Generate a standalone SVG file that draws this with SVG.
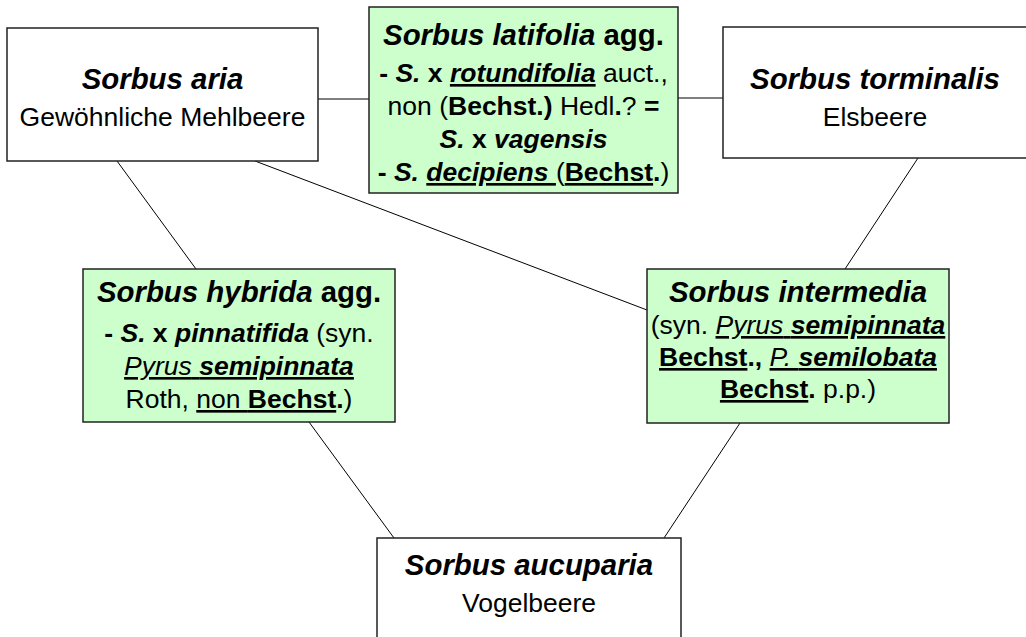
<svg xmlns="http://www.w3.org/2000/svg" width="1026" height="637" viewBox="0 0 1026 637">
<style>
.box{fill:#fff;stroke:#222;stroke-width:1.5}
.g{fill:#CCFFCC;stroke:#222;stroke-width:1.5}
.c{stroke:#000;stroke-width:1;fill:none}
text{font-family:"Liberation Sans",Arial,sans-serif;fill:#000;text-anchor:middle}
.t{font-size:29.4px;font-weight:bold;font-style:italic}
.b{font-size:26.5px}
.bd{font-weight:bold}
.it{font-style:italic}
.bi{font-weight:bold;font-style:italic}
.u{text-decoration:underline}
</style>
<rect width="1026" height="637" fill="#fff"/>
<g id="connectors">
<line class="c" x1="318" y1="99" x2="369" y2="99"/>
<line class="c" x1="678" y1="98" x2="723" y2="98"/>
<line class="c" x1="117" y1="161" x2="196" y2="269"/>
<line class="c" x1="255" y1="161" x2="647" y2="310"/>
<line class="c" x1="918" y1="158" x2="845" y2="269"/>
<line class="c" x1="309" y1="422" x2="394" y2="538"/>
<line class="c" x1="740" y1="423" x2="664" y2="538"/>
</g>
<g id="aria">
<rect class="box" x="7" y="28" width="311" height="133"/>
<text class="t" x="162.5" y="89">Sorbus aria</text>
<text class="b" x="162.5" y="126">Gewöhnliche Mehlbeere</text>
</g>
<g id="latifolia">
<rect class="g" x="369" y="7" width="309" height="186"/>
<text class="t" x="523.5" y="45">Sorbus latifolia <tspan font-style="normal">agg.</tspan></text>
<text class="b" x="523.5" y="82"><tspan class="bd">- </tspan><tspan class="bi">S.</tspan><tspan class="bd"> x </tspan><tspan class="bi u">rotundifolia</tspan> auct.,</text>
<text class="b" x="523.5" y="115">non (<tspan class="bd">Bechst.)</tspan> Hedl<tspan class="bd">.</tspan>? <tspan class="bd">=</tspan></text>
<text class="b" x="523.5" y="148"><tspan class="bi">S.</tspan><tspan class="bd"> x </tspan><tspan class="bi">vagensis</tspan></text>
<text class="b" x="523.5" y="181"><tspan class="bd">- </tspan><tspan class="bi">S.</tspan> <tspan class="bi u">decipiens </tspan>(<tspan class="bd u">Bechst</tspan><tspan class="bd">.</tspan>)</text>
</g>
<g id="torminalis">
<rect class="box" x="723" y="27" width="304" height="131"/>
<text class="t" x="875" y="89">Sorbus torminalis</text>
<text class="b" x="875" y="126">Elsbeere</text>
</g>
<g id="hybrida">
<rect class="g" x="83" y="269" width="312" height="153"/>
<text class="t" x="239" y="302">Sorbus hybrida <tspan font-style="normal">agg.</tspan></text>
<text class="b" x="239" y="342"><tspan class="bd">- </tspan><tspan class="bi">S.</tspan><tspan class="bd"> x </tspan><tspan class="bi">pinnatifida</tspan> (syn.</text>
<text class="b" x="239" y="375"><tspan class="it u">Pyrus</tspan><tspan class="u"> </tspan><tspan class="bi u">semipinnata</tspan></text>
<text class="b" x="239" y="408">Roth, <tspan class="u">non </tspan><tspan class="bd u">Bechst</tspan><tspan class="bd">.</tspan>)</text>
</g>
<g id="intermedia">
<rect class="g" x="647" y="269" width="302" height="154"/>
<text class="t" x="798" y="302">Sorbus intermedia</text>
<text class="b" x="798" y="334">(syn. <tspan class="it u">Pyrus</tspan><tspan class="u"> </tspan><tspan class="bi u">semipinnata</tspan></text>
<text class="b" x="798" y="366"><tspan class="bd u">Bechst</tspan><tspan class="bd">., </tspan><tspan class="it u">P. </tspan><tspan class="bi u">semilobata</tspan></text>
<text class="b" x="798" y="398"><tspan class="bd u">Bechst</tspan><tspan class="bd">.</tspan> p.p.)</text>
</g>
<g id="aucuparia">
<rect class="box" x="377" y="538" width="304" height="120"/>
<text class="t" x="529" y="575">Sorbus aucuparia</text>
<text class="b" x="529" y="612">Vogelbeere</text>
</g>
</svg>
